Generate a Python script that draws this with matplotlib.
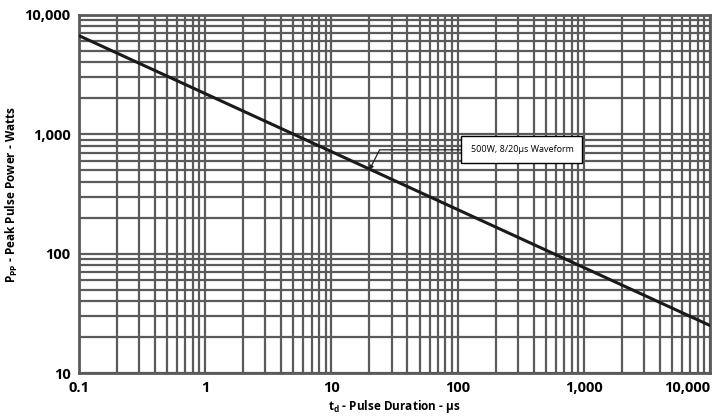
import matplotlib
matplotlib.use('Agg')
import matplotlib.pyplot as plt
from matplotlib.ticker import FixedLocator, LogLocator, FuncFormatter, NullFormatter

# Daten
pulse_duration = [0.1, 10000]      # µs
peak_power = [6700, 25]            # W
marker_duration = 20               # 8/20 µs Punkt
marker_power = 500

x_ticks = [0.1, 1, 10, 100, 1000, 10000]
x_tick_labels = ['0.1', '1', '10', '100', '1,000', '10,000']
y_ticks = [10, 100, 1000, 10000]
y_tick_labels = ['10', '100', '1,000', '10,000']

plt.rcParams.update({
    "font.family": ["Open Sans", "DejaVu Sans"],
    "font.weight": "bold",
})

fig = plt.figure(figsize=(7.23, 4.17), dpi=100)
ax = fig.add_axes([0.109, 0.1055, 0.873, 0.859])

ax.set_xscale('log')
ax.set_yscale('log')
ax.set_xlim(0.1, 10000)
ax.set_ylim(10, 10000)

# Gitter: Haupt- und Nebenlinien gleich stark
grid_color = '#5a5a5a'
ax.xaxis.set_minor_locator(LogLocator(base=10, subs=range(2, 10)))
ax.yaxis.set_minor_locator(LogLocator(base=10, subs=range(2, 10)))
ax.xaxis.set_minor_formatter(NullFormatter())
ax.yaxis.set_minor_formatter(NullFormatter())
ax.grid(True, which='both', color=grid_color, linewidth=1.6)
ax.set_axisbelow(True)
for sp in ax.spines.values():
    sp.set_color(grid_color)
    sp.set_linewidth(2)

ax.xaxis.set_major_locator(FixedLocator(x_ticks))
ax.yaxis.set_major_locator(FixedLocator(y_ticks))
ax.xaxis.set_major_formatter(FuncFormatter(lambda v, p: x_tick_labels[x_ticks.index(v)] if v in x_ticks else ''))
ax.yaxis.set_major_formatter(FuncFormatter(lambda v, p: y_tick_labels[y_ticks.index(v)] if v in y_ticks else ''))
ax.tick_params(axis='both', which='both', length=0, pad=6, labelsize=10.5)
fig.canvas.draw()
for lab in ax.get_xticklabels() + ax.get_yticklabels():
    lab.set_fontweight('bold')
# letzte x-Beschriftung rechtsbündig, damit sie im Bild bleibt
ax.get_xticklabels()[-1].set_horizontalalignment('right')
ax.get_xticklabels()[-1].set_x(10000)

# Kennlinie
ax.plot(pulse_duration, peak_power, color='#1a1a1a', linewidth=2.2, zorder=3)

# Annotation
ax.annotate('500W, 8/20µs Waveform', xy=(marker_duration, marker_power),
            xytext=(324, 740), fontsize=6.5, fontweight='normal', ha='center', va='center',
            bbox=dict(boxstyle='square,pad=1.0', fc='white', ec='black', lw=1),
            arrowprops=dict(arrowstyle='-|>,head_length=0.4,head_width=0.2', color='#222222', lw=0.9,
                            connectionstyle='angle,angleA=0,angleB=63,rad=0', shrinkA=0, shrinkB=0),
            zorder=5)

ax.set_xlabel(r'$\mathregular{t_d}$ - Pulse Duration - µs', fontsize=8.5, fontweight='bold', labelpad=2)
ax.set_ylabel(r'$\mathregular{P_{PP}}$ - Peak Pulse Power - Watts', fontsize=8.5, fontweight='bold',
              va='center')
ax.yaxis.set_label_coords(-0.106, 0.5)

fig.savefig('out.png', dpi=100)
